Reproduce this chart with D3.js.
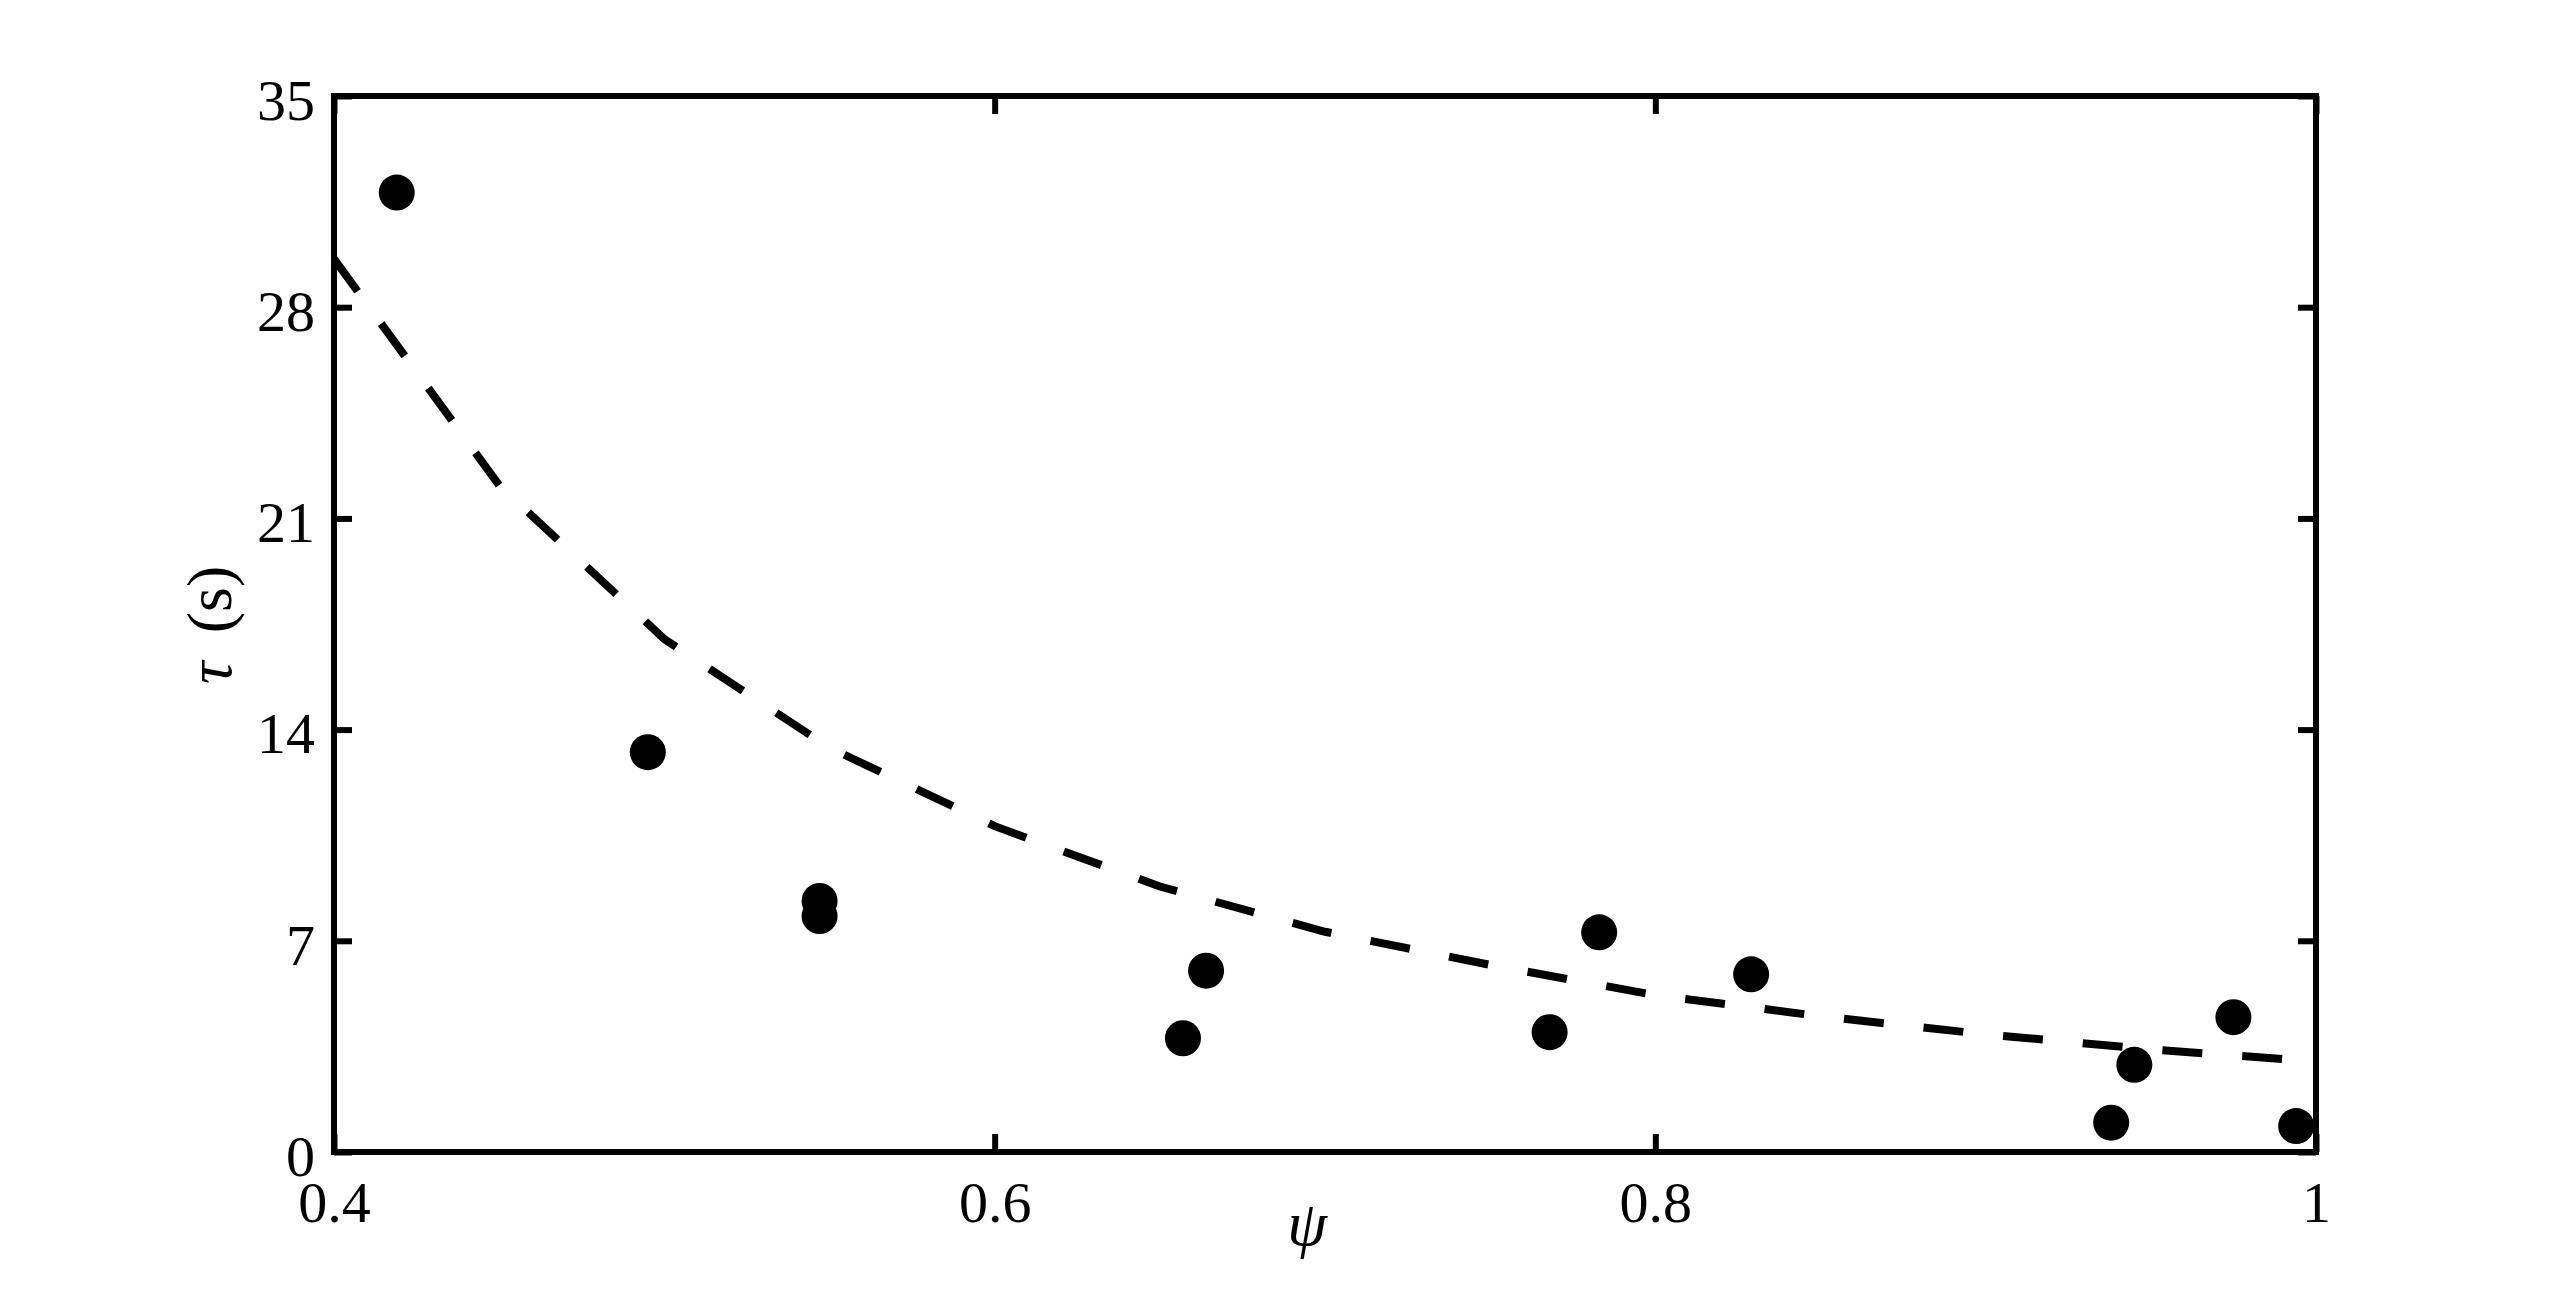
<!DOCTYPE html>
<html>
<head>
<meta charset="utf-8">
<script src="https://cdn.jsdelivr.net/npm/d3@7"></script>
<style>
  body { margin: 0; background: #fff; }
  text { font-family: "Liberation Serif", "Times New Roman", serif; fill: #000; }
</style>
</head>
<body>
<div id="chart-area"></div>
<script>
// measured points
var psiValues = [0.419, 0.495, 0.547, 0.547, 0.657, 0.664, 0.768, 0.783, 0.829, 0.938, 0.945, 0.975, 0.994];
var tauValues = [31.8, 13.25, 8.32, 7.82, 3.77, 6.01, 3.97, 7.28, 5.89, 0.97, 2.89, 4.47, 0.86];

// dashed fit line
var fitPsi = [0.4, 0.45, 0.5, 0.55, 0.6, 0.65, 0.7, 0.75, 0.8, 0.85, 0.9, 0.95, 1.0];
var fitTau = [29.6, 22.1, 17.0, 13.4, 10.8, 8.8, 7.3, 6.2, 5.2, 4.5, 3.9, 3.4, 3.0];

var xTicks = [0.4, 0.6, 0.8, 1];
var yTicks = [0, 7, 14, 21, 28, 35];

var W = 2560, H = 1296;
// plot box (note: "top" is taken by window.top)
var boxL = 334, boxR = 2316, boxT = 96, boxB = 1152;

var svg = d3.select("#chart-area")
  .append("svg")
  .attr("width", W)
  .attr("height", H);

var x = d3.scaleLinear().domain([0.4, 1]).range([boxL, boxR]);
var y = d3.scaleLinear().domain([0, 35]).range([boxB, boxT]);

var fmt = d => d === 1 ? "1" : d3.format(".1f")(d);

// axes with inward ticks
var gx = svg.append("g")
  .attr("transform", "translate(0," + boxB + ")")
  .call(d3.axisBottom(x).tickValues(xTicks).tickFormat(fmt).tickSize(-18).tickSizeOuter(0).tickPadding(29));

var gxTop = svg.append("g")
  .attr("transform", "translate(0," + boxT + ")")
  .call(d3.axisTop(x).tickValues(xTicks).tickFormat("").tickSize(-18).tickSizeOuter(0));

var gy = svg.append("g")
  .attr("transform", "translate(" + boxL + ",0)")
  .call(d3.axisLeft(y).tickValues(yTicks).tickSize(-18).tickSizeOuter(0).tickPadding(19));

var gyRight = svg.append("g")
  .attr("transform", "translate(" + boxR + ",0)")
  .call(d3.axisRight(y).tickValues(yTicks).tickFormat("").tickSize(-18).tickSizeOuter(0));

[gx, gxTop, gy, gyRight].forEach(g => {
  g.select(".domain").remove();
  g.selectAll(".tick line").attr("stroke", "#000").attr("stroke-width", 6);
  g.selectAll("text")
    .attr("font-family", "Liberation Serif, Times New Roman, serif")
    .attr("font-size", 58)
    .attr("fill", "#000");
});
gy.selectAll("text").attr("dy", "0.4em");

// box
svg.append("rect")
  .attr("x", boxL)
  .attr("y", boxT)
  .attr("width", boxR - boxL)
  .attr("height", boxB - boxT)
  .attr("fill", "none")
  .attr("stroke", "#000")
  .attr("stroke-width", 6);

// fit line
var fitData = fitPsi.map((p, i) => ({ psi: p, tau: fitTau[i] }));
var line = d3.line()
  .x(d => x(d.psi))
  .y(d => y(d.tau));

svg.append("path")
  .datum(fitData)
  .attr("d", line)
  .attr("fill", "none")
  .attr("stroke", "#000")
  .attr("stroke-width", 8)
  .attr("stroke-dasharray", "40,40");

// points
var pts = psiValues.map((p, i) => ({ psi: p, tau: tauValues[i] }));
svg.selectAll("circle.pt")
  .data(pts)
  .enter()
  .append("circle")
    .attr("class", "pt")
    .attr("cx", d => x(d.psi))
    .attr("cy", d => y(d.tau))
    .attr("r", 18)
    .attr("fill", "#000");

// axis labels
svg.append("text")
  .attr("x", 1307)
  .attr("y", 1245)
  .attr("text-anchor", "middle")
  .attr("font-size", 64)
  .attr("font-style", "italic")
  .text("ψ");

var yl = svg.append("text")
  .attr("transform", "translate(231,625) rotate(-90)")
  .attr("text-anchor", "middle")
  .attr("font-size", 64);
yl.append("tspan").attr("font-style", "italic").text("τ");
yl.append("tspan").attr("dx", 28).text("(s)");
</script>
</body>
</html>
